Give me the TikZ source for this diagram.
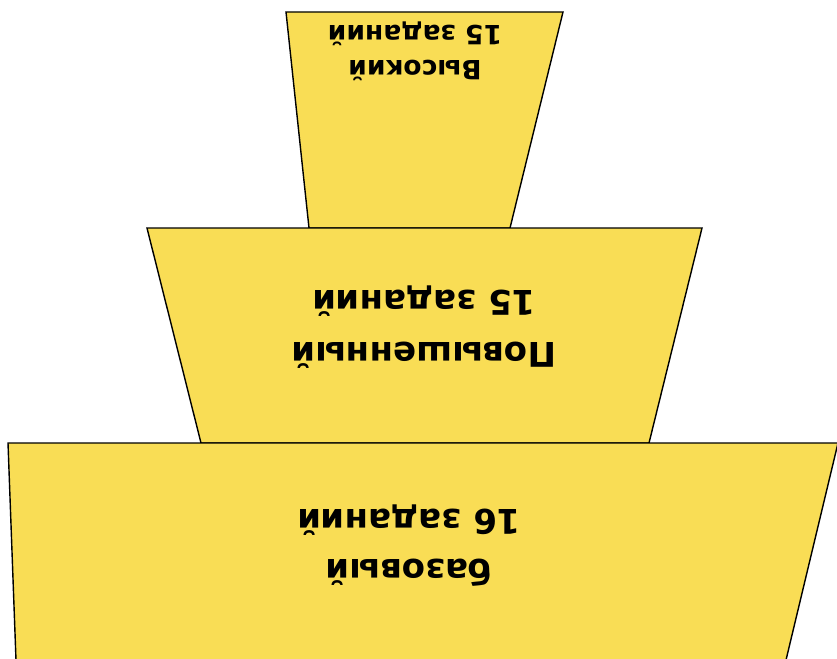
\documentclass[tikz,border=0pt]{standalone}
\usepackage{fontspec}
\setmainfont{DejaVu Sans}
\definecolor{tierfill}{HTML}{F9DD55}
\tikzset{
  tier/.style={fill=tierfill, draw=black, line width=1.4pt, line join=miter},
  tierlabel/.style={rotate=180, align=center, font=\bfseries, inner sep=0pt}
}
\begin{document}
\begin{tikzpicture}[x=1pt,y=-1pt]
\useasboundingbox (0,0) rectangle (837,658);
\clip (0,0) rectangle (837,658);
\fill[white] (0,0) rectangle (837,658);
% top tier
\draw[tier] (286,12) -- (563,12) -- (510,228) -- (309,228) -- cycle;
% middle tier
\draw[tier] (147,228) -- (702,228) -- (649,443) -- (201,443) -- cycle;
% bottom tier
\draw[tier] (8,443) -- (838,443) -- (786,660) -- (16,660) -- cycle;
\node[tierlabel, font=\fontsize{26.5}{35}\selectfont\bfseries] (high) at (415,51) {Высокий\\15 заданий};
\node[tierlabel, font=\fontsize{34}{52}\selectfont\bfseries] (mid) at (424,327) {Повышенный\\15 заданий};
\node[tierlabel, font=\fontsize{34}{50}\selectfont\bfseries] (base) at (409,546) {базовый\\16 заданий};
\end{tikzpicture}
\end{document}
